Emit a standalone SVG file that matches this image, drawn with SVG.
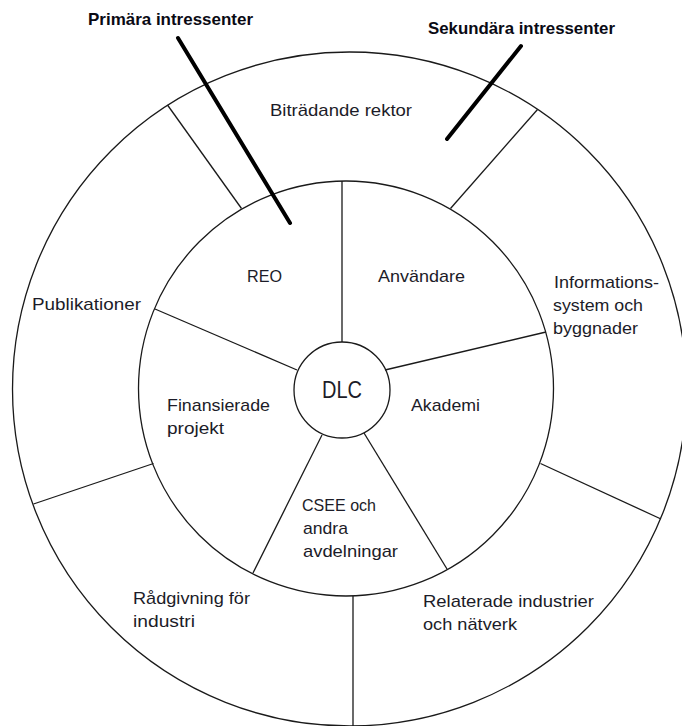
<svg xmlns="http://www.w3.org/2000/svg" width="682" height="726" viewBox="0 0 682 726">
<style>
.ring{fill:none;stroke:#1a1a1a;stroke-width:1.3}
.sp{stroke:#1a1a1a;stroke-width:1.3;fill:none}
.ptr{stroke:#000;stroke-width:4;stroke-linecap:round;fill:none}
.t{font-family:"Liberation Sans",Arial,sans-serif;font-size:17px;fill:#1c1c28}
.h{font-family:"Liberation Sans",Arial,sans-serif;font-size:17px;font-weight:bold;fill:#0a0a14}
.c{font-family:"Liberation Sans",Arial,sans-serif;font-size:23px;fill:#1c1c28}
</style>
<rect width="682" height="726" fill="#fff"/>
<g id="outer-ring"><circle class="ring" cx="349.5" cy="389" r="337"/></g>
<g id="inner-ring"><circle class="ring" cx="346" cy="388.5" r="207.5"/></g>
<g id="connectors">
<line class="sp" x1="342" y1="342" x2="342" y2="181"/>
<line class="sp" x1="155" y1="309" x2="297" y2="370"/>
<line class="sp" x1="546" y1="332" x2="385" y2="370"/>
<line class="sp" x1="253" y1="573" x2="322" y2="435"/>
<line class="sp" x1="447" y1="569" x2="364" y2="433"/>
<line class="sp" x1="167.5" y1="105" x2="241.5" y2="208.5"/>
<line class="sp" x1="537.5" y1="109.5" x2="450.5" y2="208.5"/>
<line class="sp" x1="33.5" y1="504" x2="153.5" y2="463.5"/>
<line class="sp" x1="661" y1="519" x2="540.5" y2="463.5"/>
<line class="sp" x1="353" y1="596" x2="353" y2="726"/>
<line class="ptr" x1="178" y1="38" x2="290" y2="223"/>
<line class="ptr" x1="521" y1="46" x2="447" y2="139"/>
</g>
<g id="dlc"><circle class="ring" cx="342" cy="390" r="48"/><text class="c" x="322" y="398" textLength="40" lengthAdjust="spacingAndGlyphs">DLC</text></g>
<g id="label-primara"><text class="h" x="88" y="25" textLength="165" lengthAdjust="spacingAndGlyphs">Primära intressenter</text></g>
<g id="label-sekundara"><text class="h" x="428" y="34" textLength="187" lengthAdjust="spacingAndGlyphs">Sekundära intressenter</text></g>
<g id="bitradande-rektor"><text class="t" x="270" y="116" textLength="142" lengthAdjust="spacingAndGlyphs">Biträdande rektor</text></g>
<g id="reo"><text class="t" x="247" y="282" textLength="35" lengthAdjust="spacingAndGlyphs">REO</text></g>
<g id="anvandare"><text class="t" x="378" y="282" textLength="87" lengthAdjust="spacingAndGlyphs">Användare</text></g>
<g id="publikationer"><text class="t" x="32" y="310" textLength="109" lengthAdjust="spacingAndGlyphs">Publikationer</text></g>
<g id="informationssystem"><text class="t" x="554" y="288" textLength="105" lengthAdjust="spacingAndGlyphs">Informations-</text><text class="t" x="553" y="311" textLength="90" lengthAdjust="spacingAndGlyphs">system och</text><text class="t" x="553" y="334" textLength="85" lengthAdjust="spacingAndGlyphs">byggnader</text></g>
<g id="finansierade-projekt"><text class="t" x="167" y="411" textLength="103" lengthAdjust="spacingAndGlyphs">Finansierade</text><text class="t" x="167" y="434" textLength="57" lengthAdjust="spacingAndGlyphs">projekt</text></g>
<g id="akademi"><text class="t" x="411" y="411" textLength="69" lengthAdjust="spacingAndGlyphs">Akademi</text></g>
<g id="csee"><text class="t" x="302" y="511" textLength="74" lengthAdjust="spacingAndGlyphs">CSEE och</text><text class="t" x="303" y="534" textLength="45" lengthAdjust="spacingAndGlyphs">andra</text><text class="t" x="303" y="557" textLength="95" lengthAdjust="spacingAndGlyphs">avdelningar</text></g>
<g id="radgivning"><text class="t" x="133" y="604" textLength="117" lengthAdjust="spacingAndGlyphs">Rådgivning för</text><text class="t" x="133" y="627" textLength="62" lengthAdjust="spacingAndGlyphs">industri</text></g>
<g id="relaterade-industrier"><text class="t" x="423" y="607" textLength="171" lengthAdjust="spacingAndGlyphs">Relaterade industrier</text><text class="t" x="423" y="630" textLength="94" lengthAdjust="spacingAndGlyphs">och nätverk</text></g>
</svg>
